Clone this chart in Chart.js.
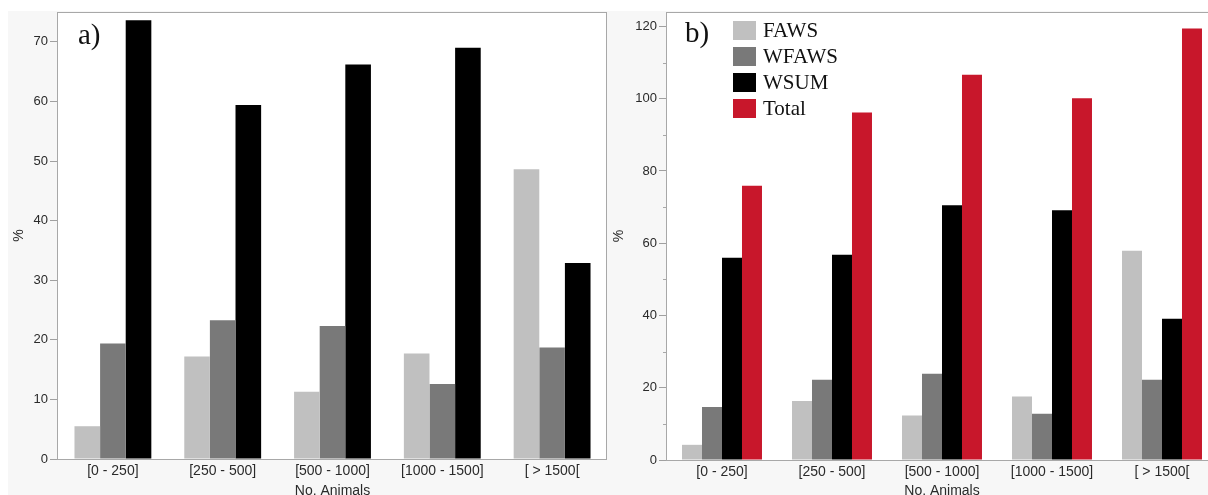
<!DOCTYPE html>
<html>
<head>
<meta charset="utf-8">
<script src="https://cdn.jsdelivr.net/npm/chart.js@4.4.1/dist/chart.umd.min.js"></script>
<style>
  html, body { margin: 0; padding: 0; background: #fff; overflow: hidden; }
  body { width: 1208px; height: 495px; position: relative; }
  .panel { position: absolute; top: 0; height: 495px; }
  #boxA { left: 8px; width: 600px; }
  #boxB { left: 608px; width: 612px; }
  .tag { position: absolute; font-family: 'Liberation Serif', serif; font-size: 29px; color: #111; }
  #legend { position: absolute; left: 729px; top: 17px; font-family: 'Liberation Serif', serif; font-size: 21px; color: #111; }
  #legend .row { display: flex; align-items: center; height: 26px; }
  #legend .sw { width: 23px; height: 19px; margin: 0 7px 0 4px; }
  #legend .bg { position: absolute; left: 0; top: 0; width: 30px; height: 109px; background: #f5f5f5; z-index: -1; }
</style>
</head>
<body>
<div class="panel" id="boxA"><canvas id="chartA"></canvas></div>
<div class="panel" id="boxB"><canvas id="chartB"></canvas></div>
<div class="tag" style="left:78px;top:18px;">a)</div>
<div class="tag" style="left:685px;top:16px;">b)</div>
<div id="legend"><div class="bg"></div></div>
<script>
const categories = ['[0 - 250]', '[250 - 500]', '[500 - 1000]', '[1000 - 1500]', '[ > 1500['];
const seriesNames = ['FAWS', 'WFAWS', 'WSUM', 'Total'];
const seriesColors = ['#c0c0c0', '#797979', '#000000', '#c8172b'];

// panel a)
const fawsA = [5.5, 17.2, 11.3, 17.7, 48.6];
const wfawsA = [19.4, 23.3, 22.3, 12.6, 18.7];
const wsumA = [73.6, 59.4, 66.2, 69.0, 32.9];

// panel b)
const fawsB = [4.2, 16.3, 12.3, 17.6, 57.9];
const wfawsB = [14.7, 22.2, 23.9, 12.8, 22.2];
const wsumB = [56.0, 56.8, 70.5, 69.1, 39.1];
const totalB = [75.9, 96.2, 106.6, 100.1, 119.4];

const ticksA = [0, 10, 20, 30, 40, 50, 60, 70];
const ticksB = [0, 20, 40, 60, 80, 100, 120];

Chart.defaults.font.family = "'Liberation Sans', Arial, sans-serif";
Chart.defaults.color = '#2a2a2a';

const frame = {
  id: 'frame',
  beforeDraw(chart) {
    const { ctx, chartArea: a, width, height } = chart;
    ctx.save();
    ctx.fillStyle = '#f7f7f7';
    ctx.fillRect(0, 11, width, height - 11);
    ctx.fillStyle = '#ffffff';
    ctx.fillRect(a.left, a.top, a.right - a.left, a.bottom - a.top);
    ctx.restore();
  },
  afterDraw(chart) {
    const { ctx, chartArea: a } = chart;
    ctx.save();
    ctx.strokeStyle = '#a8a8a8';
    ctx.lineWidth = 1;
    ctx.strokeRect(a.left - 0.5, a.top + 0.5, a.right - a.left, a.bottom - a.top);
    // short minor ticks
    const y = chart.scales.y;
    const minor = chart.options.minorTicks || [];
    ctx.beginPath();
    minor.forEach(v => {
      const py = Math.round(y.getPixelForValue(v)) + 0.5;
      ctx.moveTo(a.left - 4, py);
      ctx.lineTo(a.left, py);
    });
    ctx.stroke();
    ctx.restore();
  }
};

function makeChart(id, datasets, yMax, majors, minors, yWidth, xHeight, catPct) {
  return new Chart(document.getElementById(id), {
    type: 'bar',
    data: {
      labels: categories,
      datasets: datasets.map((d, i) => ({
        label: seriesNames[i],
        data: d,
        backgroundColor: seriesColors[i],
        borderWidth: 0,
        barPercentage: 1,
        categoryPercentage: catPct
      }))
    },
    options: {
      responsive: true,
      maintainAspectRatio: false,
      animation: false,
      minorTicks: minors,
      layout: { padding: { top: 12, right: id === 'chartA' ? 1 : 3, left: 0, bottom: 0 } },
      plugins: { legend: { display: false }, tooltip: { enabled: false } },
      scales: {
        x: {
          grid: { display: false, drawTicks: false },
          border: { display: false },
          ticks: { font: { size: 14 }, padding: 4, maxRotation: 0, autoSkip: false },
          title: { display: true, text: 'No. Animals', font: { size: 14 }, padding: { top: 0, bottom: -5 } },
          afterFit(s) { s.height = xHeight; }
        },
        y: {
          min: 0,
          max: yMax,
          afterBuildTicks(s) { s.ticks = majors.map(v => ({ value: v })); },
          ticks: { font: { size: 13 }, padding: 2 },
          grid: { drawOnChartArea: false, tickLength: 8, color: '#a0a0a0' },
          border: { display: false },
          title: { display: true, text: '%', font: { size: 14 }, padding: 3 },
          afterFit(s) { s.width = yWidth; }
        }
      }
    },
    plugins: [frame]
  });
}

makeChart('chartA', [fawsA, wfawsA, wsumA], 75, ticksA, [], 50, 36, 0.70);
makeChart('chartB', [fawsB, wfawsB, wsumB, totalB], 124, ticksB, [10, 30, 50, 70, 90, 110], 59, 35, 0.727);

const legend = document.getElementById('legend');
seriesNames.forEach((name, i) => {
  const row = document.createElement('div');
  row.className = 'row';
  row.innerHTML = '<span class="sw" style="background:' + seriesColors[i] + '"></span>' + name;
  legend.appendChild(row);
});
</script>
</body>
</html>
